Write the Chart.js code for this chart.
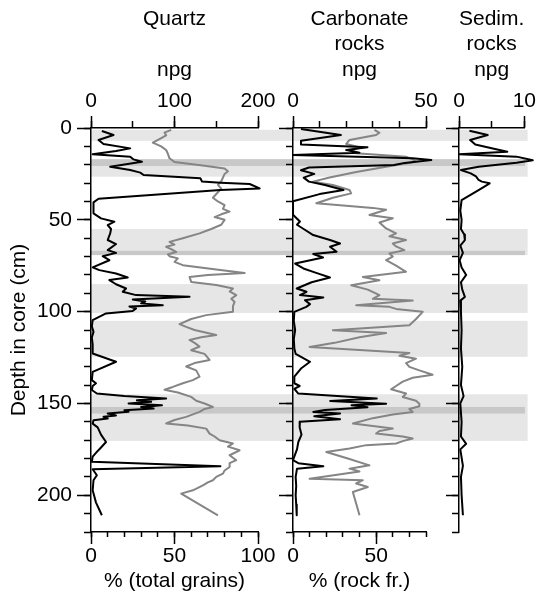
<!DOCTYPE html>
<html>
<head>
<meta charset="utf-8">
<script src="https://cdn.jsdelivr.net/npm/chart.js@4"></script>
<style>
  body { margin: 0; background: #fff; }
  canvas { position: absolute; top: 0; }
</style>
</head>
<body>
<canvas id="quartz" width="278" height="598" style="left:0px"></canvas>
<canvas id="carb" width="168" height="598" style="left:278px"></canvas>
<canvas id="sedim" width="92" height="598" style="left:446px"></canvas>
<script>
// [depth (cm), value] pairs
const quartzNpg = [[1.6,13],[3.8,27],[6.5,9],[8.7,15],[11.1,47],[12.5,30],[14.3,2],[15.6,47],[17.1,51],[18.4,61],[21.1,23],[22.9,47],[24.3,59],[25.6,63],[27.4,131],[29.2,133],[29.8,155],[30.5,190],[32.9,202],[33.8,155],[38.5,9],[40.5,3],[46.5,3],[49.2,12],[51,28],[52.9,20],[55,24],[57.4,23],[61,20],[63.2,30],[66.5,20],[68,30],[69.8,14],[72,22],[75.9,2],[77.4,10],[79.2,30],[81.4,44],[82.8,22],[85.1,30],[87.4,42],[89.2,38],[91,54],[91.9,118],[93.4,50],[94.5,65],[95.5,60],[96.5,86],[97.2,46],[98.3,54],[99.6,50],[101,18],[104.6,2],[108,1],[111,3],[114,1],[118,2],[122.8,2],[127.3,30],[132.8,2],[137.3,1],[139,6],[140.5,2],[142.7,1],[144.6,7],[146,40],[147.3,90],[148.3,55],[149.1,72],[150,45],[151,85],[151.9,60],[152.8,75],[153.7,40],[154.5,45],[155.5,20],[156.5,30],[157.3,15],[158.2,20],[159.1,3],[161,2],[163,8],[167,12],[171,18],[174,12],[176.4,7],[179,2],[181.8,1],[184.2,155],[185.8,2],[189.1,7],[191.8,3],[197.3,2],[204,6],[210.9,13]];
const quartzPct = [[1,48],[2.5,44],[4,45],[6,41],[8,37],[10,42],[12,45],[14,46],[16.5,47],[18.5,50],[20.5,68],[22,80],[23.5,82],[25,80],[27,79],[29,78],[31,76],[33,78],[35,76],[38,73],[40,76],[42,80],[44,79],[45.5,83],[47,78],[48.5,74],[50,80],[52.7,78],[55,72],[57.4,65],[60,55],[62,47],[63.5,50],[64.7,45],[66,48],[67.5,51],[68.8,46],[69.8,47],[71,52],[72.9,50],[74.7,55],[77,75],[78.9,92],[80,70],[81.1,59],[83.8,60],[85.5,75],[87.4,85],[89,83],[91,87],[93,84],[94.7,86],[97,85],[100.1,85],[101.9,69],[104,60],[106.8,53],[108.3,57],[110,62],[112.7,75],[114,66],[115.4,59],[117,62],[119,65],[121,60],[123,68],[126.3,71],[128,62],[129.9,57],[132,63],[135.4,65],[137.3,61],[139,55],[141,49],[142.5,44],[144,52],[146.4,60],[148.5,63],[150,68],[151.9,73],[153,68],[154.6,65],[157.3,57],[159,50],[160.9,45],[162,58],[163.7,69],[166.4,71],[168,74],[170,77],[171.8,85],[173.5,82],[175.5,89],[178.2,83],[180.9,87],[182.5,83],[184.6,83],[186.5,80],[188.2,79],[190,75],[191.8,73],[193,70],[194.6,67],[196,64],[197.3,61],[199.1,54],[210.9,76]];

const carbNpg = [[0.5,3],[3.8,18],[7,3],[9,3],[10.5,28],[12,20],[13.5,25],[14.7,0],[16.5,45],[17.4,52],[19,42],[20.2,38],[21.5,6],[23,3],[25,8],[27,4],[29.2,6],[31,12],[33.8,19],[36,10],[39.9,0],[47.2,0],[50.9,2.6],[52.7,1.5],[55,4],[58.3,7.6],[61,13.9],[62.9,17.7],[64.7,13.9],[67.4,16.4],[68.6,7.6],[70.5,11.3],[73.8,0.8],[76.5,3.9],[79,9],[81.4,13.9],[84,7],[87.4,1.4],[89.2,5.1],[91,2.6],[92.3,11.4],[93.8,4.5],[95.9,6.4],[97.4,5],[100.1,0.5],[105,0.3],[110,0.8],[115,0.3],[120,0.5],[123,1],[127.3,6.4],[131,3],[135.4,0.5],[139,0.5],[140.5,2.5],[142,0.5],[144.6,2],[146.4,21],[147.3,31.5],[148.6,14],[150.1,35],[151,22],[152,28],[153.5,12],[154.6,7.6],[155.5,17.7],[157,8],[158.6,17.7],[159.9,2.6],[163,2.5],[167,3.2],[171,2],[175,1.5],[180.9,0],[182.5,2],[184.2,11.4],[185.5,1.5],[190,1],[195,1.2],[200,1],[205,1.2],[210.9,1.4]];
const carbPct = [[1,49],[2.6,52],[3.8,50],[6.5,34],[8.7,32],[10.5,40],[12,36],[13.8,38],[15.6,68],[17.1,72],[18.4,74],[21.1,56],[24,38],[27,22],[29.2,12],[31,24],[33.8,34],[35.6,35],[38,24],[41,14],[43.5,48],[44.5,56],[47.4,46],[49.2,60],[51.5,52],[54.7,56],[57.4,62],[59,58],[61,68],[62.9,60],[64.5,62],[66.5,67],[68.3,58],[70,60],[72,56],[75,62],[78.3,68],[81.1,42],[82.9,52],[85.6,35],[88,45],[91,52],[93,48],[94,72],[96.5,38],[97.4,58],[98.5,62],[100.1,78],[104,74],[107.4,70],[110.1,24],[111.6,56],[114,40],[117,25],[119.2,10],[122.5,70],[124,64],[125.6,74],[128,68],[130.1,70],[132,76],[134.4,84],[136,72],[138.1,66],[140.5,62],[142.3,59],[144.6,68],[146.5,66],[148.5,74],[150.1,76],[151.5,76],[153,70],[154.6,72],[156,60],[158,48],[160.9,36],[162.3,48],[163.7,60],[165,52],[166.4,50],[168,66],[169.1,72],[170.5,66],[171.8,62],[172.7,44],[174.5,34],[176.4,20],[180,33],[183.7,46],[185.5,34],[187,40],[191,10],[191.8,42],[193.6,38],[195.5,45],[198.2,36],[210.9,40]];

const sedimNpg = [[1.5,1.6],[3.8,4.4],[6.5,1.7],[9,2.5],[11,5],[12.9,7.4],[14.3,0],[15.6,8.8],[17.6,11.3],[18.9,8.8],[21.1,3],[22.9,0.3],[24.7,1.8],[26.3,2.6],[28.3,3],[29.2,3.5],[30.1,4.7],[33.8,3],[39.3,0.4],[45,0.2],[50,0.4],[55,0.3],[58,0.8],[61,0.9],[64,0.2],[68,0.6],[72,0.1],[76,0.4],[80,1.1],[84,0.3],[88,0.5],[92,0.9],[94,0.2],[100,0.3],[110,0.4],[120,0.3],[130,0.5],[140,0.3],[146,0.7],[150,0.2],[160,0.4],[168,0.3],[172,1.1],[175,0.2],[184,0.6],[190,0.3],[200,0.4],[210.9,0.6]];

// shaded depth intervals
const bandTop = [1, 17, 55, 85, 105, 145];
const bandBottom = [7, 26.5, 69.2, 100.7, 124.6, 170.4];
const darkTop = [17, 66.9, 151.9];
const darkBottom = [20.7, 69.2, 155.5];

const FONT = { family: "'Liberation Sans', Arial, sans-serif", size: 21, lineHeight: 1.2 };
const TITLE_FONT = { family: "'Liberation Sans', Arial, sans-serif", size: 21, lineHeight: 1.22 };
const BAND_LIGHT = '#e6e6e6';
const BAND_DARK = '#c8c8c8';

Chart.defaults.color = '#000';

function toPoints(pairs) {
  return pairs.map(p => ({ x: p[1], y: p[0] }));
}

function line(pairs, color, xAxisID) {
  return {
    data: toPoints(pairs),
    xAxisID: xAxisID,
    yAxisID: 'y',
    showLine: true,
    borderColor: color,
    borderWidth: 2,
    borderJoinStyle: 'round',
    pointRadius: 0,
    tension: 0,
    clip: false
  };
}

function axis(o) {
  const horizontal = o.position === 'top' || o.position === 'bottom';
  return {
    type: 'linear',
    position: o.position,
    min: o.min,
    max: o.max,
    reverse: !!o.reverse,
    weight: o.minor ? 0 : 1,
    afterFit: s => { if (horizontal) s.height = o.size; else s.width = o.size; },
    border: { display: !o.minor, color: '#000', width: 1.5 },
    grid: { drawOnChartArea: false, drawTicks: true, tickLength: o.tickLength, tickColor: '#000', tickWidth: 1.5 },
    ticks: {
      stepSize: o.step,
      includeBounds: false,
      display: !!o.labels,
      autoSkip: false,
      maxRotation: 0,
      padding: o.padding || 0,
      font: FONT,
      callback: v => String(v)
    },
    title: o.title ? {
      display: true,
      text: o.title,
      font: TITLE_FONT,
      padding: o.titlePadding
    } : { display: false }
  };
}

// light bands run across all panels; the darker strips stop a bit short at the far right
function bandPlugin(leftEdge, rightEdge, darkRightEdge) {
  return {
    id: 'bands',
    beforeDraw(chart) {
      const y = chart.scales.y;
      const ctx = chart.ctx;
      const x0 = leftEdge(chart);
      const x1 = rightEdge(chart);
      const x2 = darkRightEdge(chart);
      ctx.save();
      ctx.fillStyle = BAND_LIGHT;
      bandTop.forEach((t, i) => {
        const a = y.getPixelForValue(t);
        const b = y.getPixelForValue(bandBottom[i]);
        ctx.fillRect(x0, a, x1 - x0, b - a);
      });
      ctx.fillStyle = BAND_DARK;
      darkTop.forEach((t, i) => {
        const a = y.getPixelForValue(t);
        const b = y.getPixelForValue(darkBottom[i]);
        ctx.fillRect(x0, a, x2 - x0, b - a);
      });
      ctx.restore();
    }
  };
}

function depthAxes(width, labels) {
  return {
    y: axis({ position: 'left', min: 0, max: 220, reverse: true, step: 50, tickLength: 14, size: width,
              labels: labels, padding: 5,
              title: labels ? 'Depth in core (cm)' : null, titlePadding: { top: 6, bottom: 0 } }),
    yMinor: axis({ position: 'left', min: 0, max: 220, reverse: true, step: 10, tickLength: 7, size: 0, minor: true })
  };
}

function baseOptions(scales, rightPad, bottomPad) {
  return {
    responsive: false,
    animation: false,
    devicePixelRatio: 1,
    events: [],
    layout: { padding: { left: 0, top: 0, right: rightPad, bottom: bottomPad } },
    plugins: { legend: { display: false }, tooltip: { enabled: false } },
    scales: scales
  };
}

// Quartz
new Chart(document.getElementById('quartz'), {
  type: 'scatter',
  data: { datasets: [line(quartzNpg, '#000', 'xTop'), line(quartzPct, '#858585', 'xBot')] },
  options: baseOptions(Object.assign(depthAxes(91, true), {
    xTop: axis({ position: 'top', min: 0, max: 200, step: 100, tickLength: 12, size: 128, labels: true, padding: 2,
                 title: ['Quartz', '', 'npg'], titlePadding: { top: 6, bottom: 0 } }),
    xTopMinor: axis({ position: 'top', min: 0, max: 200, step: 50, tickLength: 7, size: 0, minor: true }),
    xBot: axis({ position: 'bottom', min: 0, max: 100, step: 50, tickLength: 12, size: 66, labels: true, padding: 0,
                 title: '% (total grains)', titlePadding: { top: 0, bottom: 4 } }),
    xBotMinor: axis({ position: 'bottom', min: 0, max: 100, step: 10, tickLength: 5, size: 0, minor: true })
  }), 20, 0),
  plugins: [bandPlugin(c => c.chartArea.left, c => c.width, c => c.width)]
});

// Carbonate rocks
new Chart(document.getElementById('carb'), {
  type: 'scatter',
  data: { datasets: [line(carbNpg, '#000', 'xTop'), line(carbPct, '#858585', 'xBot')] },
  options: baseOptions(Object.assign(depthAxes(15, false), {
    xTop: axis({ position: 'top', min: 0, max: 50, step: 50, tickLength: 12, size: 128, labels: true, padding: 2,
                 title: ['Carbonate', 'rocks', 'npg'], titlePadding: { top: 6, bottom: 0 } }),
    xTopMinor: axis({ position: 'top', min: 0, max: 50, step: 10, tickLength: 7, size: 0, minor: true }),
    xBot: axis({ position: 'bottom', min: 0, max: 80, step: 50, tickLength: 12, size: 66, labels: true, padding: 0,
                 title: '% (rock fr.)', titlePadding: { top: 0, bottom: 4 } }),
    xBotMinor: axis({ position: 'bottom', min: 0, max: 80, step: 10, tickLength: 5, size: 0, minor: true })
  }), 20, 0),
  plugins: [bandPlugin(c => 0, c => c.width, c => c.width)]
});

// Sedimentary rocks
new Chart(document.getElementById('sedim'), {
  type: 'scatter',
  data: { datasets: [line(sedimNpg, '#000', 'xTop')] },
  options: baseOptions(Object.assign(depthAxes(13, false), {
    xTop: axis({ position: 'top', min: 0, max: 10, step: 10, tickLength: 12, size: 128, labels: true, padding: 2,
                 title: ['Sedim.', 'rocks', 'npg'], titlePadding: { top: 6, bottom: 0 } }),
    xTopMinor: axis({ position: 'top', min: 0, max: 10, step: 5, tickLength: 7, size: 0, minor: true })
  }), 10, 66),
  plugins: [bandPlugin(c => 0, c => c.scales.xTop.getPixelForValue(10.5), c => c.scales.xTop.getPixelForValue(10.1))]
});
</script>
</body>
</html>
